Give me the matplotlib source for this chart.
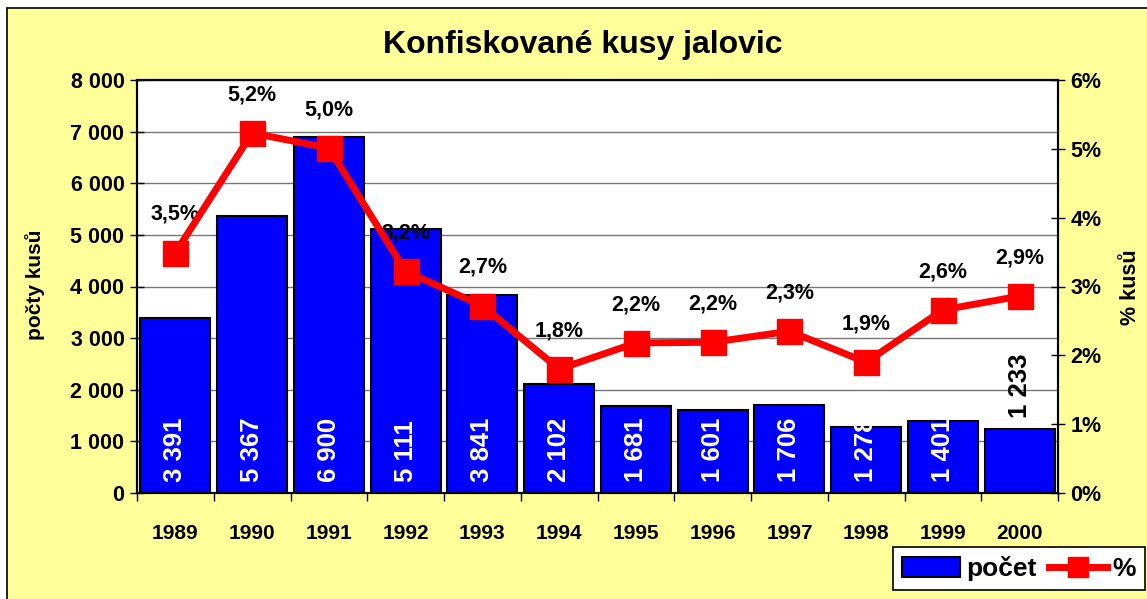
import matplotlib.pyplot as plt
from matplotlib.patches import Rectangle
from matplotlib.lines import Line2D
from matplotlib.ticker import FuncFormatter

years = ["1989", "1990", "1991", "1992", "1993", "1994",
         "1995", "1996", "1997", "1998", "1999", "2000"]
pocet = [3391, 5367, 6900, 5111, 3841, 2102, 1681, 1601, 1706, 1278, 1401, 1233]
procenta = [3.5, 5.2, 5.0, 3.2, 2.7, 1.8, 2.2, 2.2, 2.3, 1.9, 2.6, 2.9]
procenta_pos = [3.49, 5.23, 5.01, 3.22, 2.72, 1.80, 2.18, 2.19, 2.35, 1.90, 2.66, 2.86]

plt.rcParams['font.family'] = ['Liberation Sans', 'DejaVu Sans']
plt.rcParams['font.weight'] = 'bold'

yellow = '#FFFF99'
fig = plt.figure(figsize=(11.47, 5.99), dpi=100, facecolor='white')
# chart area background with border
fig.patches.append(Rectangle((7 / 1147, -0.05), 1.1, 1 - 8 / 599 + 0.05,
                             transform=fig.transFigure, facecolor=yellow,
                             edgecolor='black', linewidth=1.2, zorder=-10))

ax1 = fig.add_axes([137 / 1147, 1 - 493 / 599, (1058 - 137) / 1147, (493 - 80) / 599])
ax1.set_facecolor('white')
x = list(range(len(years)))
bars = ax1.bar(x, pocet, width=0.91, color='#0000FF', edgecolor='black', linewidth=1.5, zorder=3)
ax1.set_xlim(-0.5, len(years) - 0.5)
ax1.set_ylim(0, 8000)
ax1.set_yticks(range(0, 8001, 1000))
ax1.yaxis.set_major_formatter(FuncFormatter(lambda v, p: f"{int(v):,}".replace(",", " ")))
ax1.grid(axis='y', color='#777777', linewidth=1.0, zorder=0)
ax1.set_axisbelow(True)
ax1.set_xticks(x)
ax1.set_xticklabels(years)
ax1.set_xticks([i - 0.5 for i in range(len(years) + 1)], minor=True)
ax1.tick_params(axis='x', which='major', length=0, pad=22, labelsize=15)
ax1.tick_params(axis='x', which='minor', length=6, direction='out', width=1)
ax1.tick_params(axis='y', direction='inout', length=10, width=1, labelsize=15.5, pad=4)
for s in ax1.spines.values():
    s.set_linewidth(1.5)

for i, v in enumerate(pocet):
    txt = f"{v:,}".replace(",", " ")
    if i == len(pocet) - 1:
        ax1.annotate(txt, (i, v), xytext=(0, 8), textcoords='offset points',
                     rotation=90, ha='center', va='bottom', color='black',
                     fontsize=18.5, fontweight='bold', zorder=4)
    else:
        ax1.annotate(txt, (i, 0), xytext=(0, 8), textcoords='offset points',
                     rotation=90, ha='center', va='bottom', color='white',
                     fontsize=18.5, fontweight='bold', zorder=4)

ax2 = ax1.twinx()
ax2.set_ylim(0, 6)
ax2.set_yticks(range(0, 7))
ax2.yaxis.set_major_formatter(FuncFormatter(lambda v, p: f"{int(v)}%"))
ax2.tick_params(axis='y', direction='inout', length=10, width=1, labelsize=15.5, pad=4)
ax2.plot(x, procenta_pos, color='#FF0000', linewidth=5, marker='s', markersize=18,
         zorder=5)
for i, v in enumerate(procenta):
    ax2.annotate(f"{v:.1f}%".replace(".", ","), (i, procenta_pos[i]), xytext=(0, 20),
                 textcoords='offset points', ha='center', va='bottom',
                 fontsize=15.5, fontweight='bold', zorder=2)
for s in ax2.spines.values():
    s.set_linewidth(1.5)

fig.text(583 / 1147, 1 - 45 / 599, "Konfiskované kusy jalovic", ha='center', va='center',
         fontsize=23, fontweight='bold')
fig.text(35 / 1147, 1 - 285 / 599, "počty kusů", rotation=90, ha='center', va='center',
         fontsize=15, fontweight='bold')
fig.text(1130 / 1147, 1 - 287 / 599, "% kusů", rotation=90, ha='center', va='center',
         fontsize=15.5, fontweight='bold')

handles = [Rectangle((0, 0), 1, 1, facecolor='#0000FF', edgecolor='black', linewidth=1.5),
           Line2D([0], [0], color='#FF0000', linewidth=5, marker='s', markersize=14)]
leg = fig.legend(handles, ['počet', '%'], loc='upper left',
                 bbox_to_anchor=(893 / 1147, 1 - 547 / 599), ncol=2, frameon=True,
                 fancybox=False, edgecolor='black', framealpha=1,
                 prop={'size': 19, 'weight': 'bold'}, handlelength=2.2,
                 handleheight=0.8, columnspacing=0.45, handletextpad=0.23,
                 borderpad=0.35, borderaxespad=0)
leg.get_frame().set_linewidth(1.2)

fig.savefig('out.png', dpi=100, facecolor=fig.get_facecolor())
